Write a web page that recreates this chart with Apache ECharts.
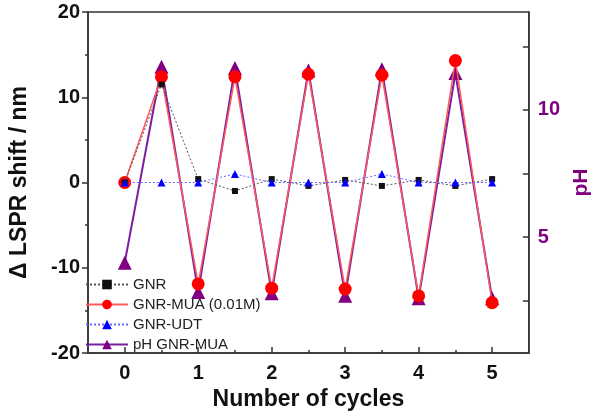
<!DOCTYPE html>
<html>
<head>
<meta charset="utf-8">
<script src="https://cdn.jsdelivr.net/npm/echarts@6/dist/echarts.min.js"></script>
<style>html,body{margin:0;padding:0;background:#fff;}#c{width:600px;height:419px;}</style>
</head>
<body>
<div id="c"></div>
<script>
// ---- data ----
const cycles = [0, 0.5, 1, 1.5, 2, 2.5, 3, 3.5, 4, 4.5, 5];
const gnr = [0, 11.5, 0.4, -1.0, 0.4, -0.4, 0.3, -0.4, 0.3, -0.4, 0.4];
const gnrMua = [0, 12.4, -11.9, 12.4, -12.4, 12.7, -12.5, 12.6, -13.3, 14.3, -14.1];
const gnrUdt = [0, 0, 0, 1.0, 0, 0, 0, 1.0, 0, 0, 0];
const phMua = [4.0, 11.7, 2.85, 11.65, 2.8, 11.55, 2.7, 11.6, 2.6, 11.45, 2.6];
const xTicks = [0, 1, 2, 3, 4, 5];
const xMinorTicks = [0.5, 1.5, 2.5, 3.5, 4.5];
const phTicks = [2.5, 5, 7.5, 10, 12.5];
const phLabels = [5, 10];
const names = ['GNR', 'GNR-MUA (0.01M)', 'GNR-UDT', 'pH GNR-MUA'];

const pair = arr => cycles.map((c, i) => [c, arr[i]]);
const FONT = '"Liberation Sans", Arial, sans-serif';
const AX = '#333';
const PURPLE = '#800080';

const chart = echarts.init(document.getElementById('c'), null, {renderer: 'canvas'});
chart.setOption({
  animation: false,
  backgroundColor: '#fff',
  grid: {left: 86, right: 57, top: 12, bottom: 66, show: true, borderColor: AX, borderWidth: 1.5, backgroundColor: 'transparent'},
  legend: {
    data: names,
    orient: 'vertical',
    left: 85, top: 277, padding: 0,
    itemWidth: 42, itemHeight: 12, itemGap: 5,
    textStyle: {fontFamily: FONT, fontSize: 15, color: '#222'}
  },
  xAxis: [{
    type: 'value', min: -0.5, max: 5.5, position: 'bottom',
    name: 'Number of cycles', nameLocation: 'middle', nameGap: 30,
    nameTextStyle: {fontFamily: FONT, fontSize: 23, fontWeight: 'bold', color: '#111'},
    axisLine: {onZero: false, lineStyle: {color: AX, width: 1.5}},
    axisTick: {inside: true, length: 6, customValues: xTicks, lineStyle: {color: AX, width: 1.5}},
    axisLabel: {customValues: xTicks, margin: 10, fontFamily: FONT, fontSize: 20, fontWeight: 'bold', color: '#111'},
    splitLine: {show: false}
  }, {
    type: 'value', min: -0.5, max: 5.5, position: 'bottom',
    axisLine: {show: false, onZero: false},
    axisTick: {inside: true, length: 3, customValues: xMinorTicks, lineStyle: {color: AX, width: 1.5}},
    axisLabel: {show: false},
    splitLine: {show: false}
  }],
  yAxis: [{
    type: 'value', min: -20, max: 20, interval: 10, position: 'left',
    name: '\u0394 LSPR shift / nm', nameLocation: 'middle', nameGap: 57, nameRotate: 90,
    nameTextStyle: {fontFamily: FONT, fontSize: 23, fontWeight: 'bold', color: '#111'},
    axisLine: {show: true, onZero: false, lineStyle: {color: AX, width: 1.5}},
    axisTick: {show: true, length: 6, lineStyle: {color: AX, width: 1.5}},
    minorTick: {show: true, splitNumber: 2, length: 3, lineStyle: {color: AX, width: 1.5}},
    axisLabel: {margin: 8, fontFamily: FONT, fontSize: 20, fontWeight: 'bold', color: '#111'},
    splitLine: {show: false}
  }, {
    type: 'value', min: 0.45, max: 13.85, position: 'right',
    name: 'pH', nameLocation: 'middle', nameGap: 32, nameRotate: 90,
    nameTextStyle: {fontFamily: FONT, fontSize: 21, fontWeight: 'bold', color: PURPLE},
    axisLine: {show: true, onZero: false, lineStyle: {color: AX, width: 1.5}},
    axisTick: {show: true, inside: true, length: 6, customValues: phTicks, lineStyle: {color: AX, width: 1.5}},
    axisLabel: {customValues: phLabels, margin: 9, fontFamily: FONT, fontSize: 20, fontWeight: 'bold', color: PURPLE},
    splitLine: {show: false}
  }],
  series: [{
    name: names[0], type: 'line', xAxisIndex: 0, yAxisIndex: 0, z: 4,
    data: pair(gnr),
    symbol: 'rect', symbolSize: 6,
    itemStyle: {color: '#111'},
    lineStyle: {color: '#555', width: 1, type: [2, 2]}
  }, {
    name: names[1], type: 'line', xAxisIndex: 0, yAxisIndex: 0, z: 3,
    data: pair(gnrMua),
    symbol: 'circle', symbolSize: 13,
    itemStyle: {color: '#ff0000'},
    lineStyle: {color: '#ff5a5a', width: 1.5}
  }, {
    name: names[2], type: 'line', xAxisIndex: 0, yAxisIndex: 0, z: 5,
    data: pair(gnrUdt),
    symbol: 'triangle', symbolSize: 8,
    itemStyle: {color: '#0000ff'},
    lineStyle: {color: '#6a6aff', width: 1, type: [2, 2]}
  }, {
    name: names[3], type: 'line', xAxisIndex: 0, yAxisIndex: 1, z: 2,
    data: pair(phMua),
    symbol: 'triangle', symbolSize: 14,
    itemStyle: {color: PURPLE},
    lineStyle: {color: '#7a1fa0', width: 2}
  }]
});
</script>
</body>
</html>
